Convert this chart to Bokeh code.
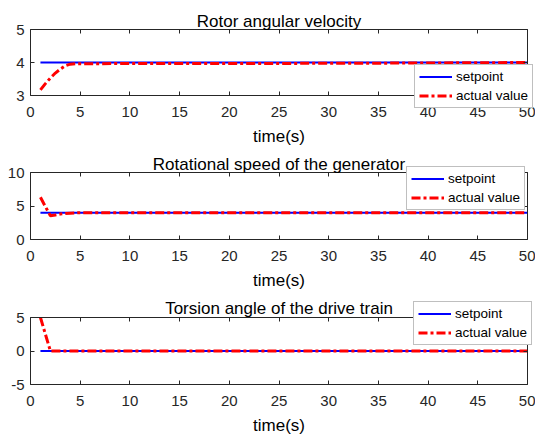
from bokeh.plotting import figure
from bokeh.models import Legend, LegendItem, LinearAxis, FixedTicker, Range1d, Label, PrintfTickFormatter
from bokeh.layouts import column
from bokeh.embed import file_html
from bokeh.resources import INLINE

# ---- data ----
titles = ["Rotor angular velocity", "Rotational speed of the generator", "Torsion angle of the drive train"]
t = [1, 1.5, 2, 2.5, 3, 3.5, 4, 4.5, 5, 10, 20, 30, 40, 50]
setpoint1 = [4] * len(t)
actual1 = [3.17, 3.36, 3.53, 3.68, 3.80, 3.90, 3.95, 3.965, 3.965, 3.967, 3.97, 3.975, 3.985, 4.0]
setpoint2 = [4] * len(t)
actual2 = [6.3, 4.9, 3.55, 3.65, 3.8, 3.88, 3.93, 3.97, 4.0, 4.0, 4.0, 4.0, 4.0, 4.0]
setpoint3 = [0] * len(t)
actual3 = [5.0, 2.5, 0.0, 0.0, 0.0, 0.0, 0.0, 0.0, 0.0, 0.0, 0.0, 0.0, 0.0, 0.0]
y_limits = [(3, 5), (0, 10), (-5, 5)]
y_ticks = [[3, 4, 5], [0, 5, 10], [-5, 0, 5]]
x_limits = (0, 50)
x_ticks = list(range(0, 51, 5))
legend_labels = ["setpoint", "actual value"]
x_label = "time(s)"

FONT = "Liberation Sans"
DARK = "#262626"
W = 535
BOX_LEFT, BOX_RIGHT = 30, 527

# per panel layout in pixels: (figure height, axes-box top, axes-box bottom, title baseline, legend (x, y) from frame bottom-left)
panels = [
    (145, 29, 95, 21, (414, 37)),
    (145, 27, 94, 19, (406, 80)),
    (146, 27, 94, 18, (413, 91)),
]
series = [(setpoint1, actual1), (setpoint2, actual2), (setpoint3, actual3)]

xppu = (BOX_RIGHT - BOX_LEFT) / (x_limits[1] - x_limits[0])
x_start = x_limits[0] - BOX_LEFT / xppu
x_end = x_limits[1] + (W - BOX_RIGHT) / xppu


def style_axis(ax):
    ax.major_tick_in = 4
    ax.major_tick_out = 0
    ax.minor_tick_line_color = None
    ax.axis_line_color = DARK
    ax.major_tick_line_color = DARK
    ax.major_label_text_font = FONT
    ax.major_label_text_font_size = "15px"
    ax.major_label_text_color = DARK


figs = []
for i in range(3):
    h, btop, bbot, tbase, loc = panels[i]
    ylo, yhi = y_limits[i]
    ppu = (bbot - btop) / (yhi - ylo)
    y_start = ylo - (h - bbot) / ppu
    y_end = yhi + btop / ppu
    sp, av = series[i]

    p = figure(width=W, height=h, x_range=Range1d(x_start, x_end), y_range=Range1d(y_start, y_end),
               output_backend="svg", toolbar_location=None,
               min_border_left=0, min_border_right=0, min_border_top=0, min_border_bottom=0)
    p.grid.visible = False
    p.outline_line_color = None
    p.background_fill_color = "white"

    # bottom axis, fixed at the lower y limit
    xa = p.xaxis[0]
    xa.fixed_location = ylo
    xa.bounds = x_limits
    xa.ticker = FixedTicker(ticks=x_ticks)
    style_axis(xa)
    xa.axis_label = x_label
    xa.axis_label_text_font = FONT
    xa.axis_label_text_font_size = "17px"
    xa.axis_label_text_font_style = "normal"
    xa.axis_label_text_color = "#000000"
    xa.axis_label_standoff = 7
    xa.major_label_standoff = 11

    # left axis, fixed at the lower x limit
    ya = p.yaxis[0]
    ya.fixed_location = x_limits[0]
    ya.bounds = (ylo, yhi)
    ya.ticker = FixedTicker(ticks=y_ticks[i])
    ya.formatter = PrintfTickFormatter(format="%d")
    style_axis(ya)
    ya.major_label_standoff = 6

    top = LinearAxis(ticker=FixedTicker(ticks=x_ticks), fixed_location=yhi, bounds=x_limits)
    right = LinearAxis(ticker=FixedTicker(ticks=y_ticks[i]), fixed_location=x_limits[1], bounds=(ylo, yhi))
    for ax in (top, right):
        style_axis(ax)
        ax.major_label_text_color = None
    p.add_layout(top, "above")
    p.add_layout(right, "right")

    # title as text inside the frame, centred over the axes box
    p.add_layout(Label(x=(x_limits[0] + x_limits[1]) / 2, y=y_end - tbase / ppu, text=titles[i],
                       text_align="center", text_baseline="alphabetic",
                       text_font=FONT, text_font_size="17px", text_color="#000000"))

    r1 = p.line(t, sp, line_color="#0000ff", line_width=2)
    r2 = p.line(t, av, line_color="#ff0000", line_width=3, line_dash="9 3 3 3")

    leg = Legend(items=[LegendItem(label=legend_labels[0], renderers=[r1]),
                        LegendItem(label=legend_labels[1], renderers=[r2])],
                 location=loc, padding=4, spacing=4, margin=0,
                 glyph_width=33, glyph_height=15, label_height=15, label_standoff=4,
                 label_text_font=FONT, label_text_font_size="13.5px", label_text_color="#000000",
                 border_line_color="#808080", border_line_width=1,
                 background_fill_color="white", background_fill_alpha=1)
    p.add_layout(leg)
    figs.append(p)

layout = column(*figs, spacing=0)
open("out.html", "w").write(file_html(layout, INLINE))
